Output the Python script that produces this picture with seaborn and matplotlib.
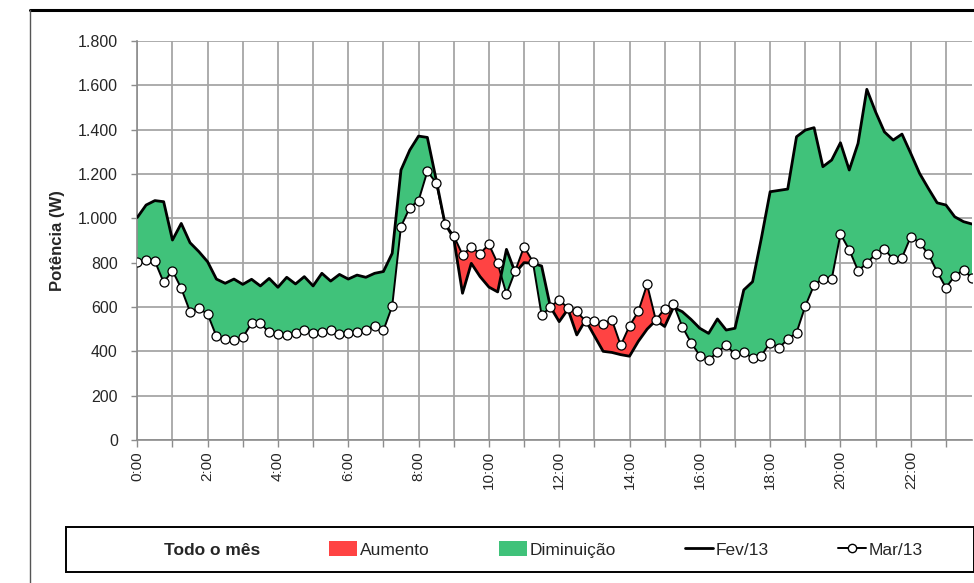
import numpy as np
import pandas as pd
import matplotlib
matplotlib.use("Agg")
import matplotlib.pyplot as plt
import seaborn as sns
from matplotlib.patches import Patch, Rectangle
from matplotlib.lines import Line2D

# ---- data (15-minute intervals, 0:00 .. 23:45) ----
fev = [1004, 1060, 1080, 1075, 902, 977, 890, 850, 804, 726, 707, 726, 702, 725, 695, 729,
       689, 734, 704, 737, 695, 752, 717, 747, 726, 744, 734, 752, 760, 842, 1218, 1308,
       1371, 1365, 1175, 977, 910, 662, 797, 737, 690, 668, 860, 755, 800, 797, 785, 600,
       534, 590, 474, 541, 470, 400, 395, 385, 378, 445, 500, 540, 512, 598, 579, 544,
       504, 481, 546, 496, 504, 677, 714, 910, 1120, 1126, 1132, 1368, 1398, 1409, 1233, 1263,
       1341, 1218, 1338, 1582, 1480, 1390, 1353, 1380, 1293, 1203, 1135, 1070, 1060, 1007, 985, 974]
mar = [804, 812, 807, 711, 764, 684, 579, 594, 568, 468, 454, 451, 463, 526, 526, 486,
       478, 474, 484, 496, 484, 487, 496, 477, 481, 489, 496, 516, 494, 604, 963, 1048,
       1080, 1212, 1160, 975, 922, 836, 870, 841, 883, 797, 658, 763, 872, 805, 563, 600,
       633, 594, 580, 536, 537, 525, 542, 427, 515, 580, 702, 540, 593, 614, 511, 439,
       381, 361, 396, 427, 387, 396, 370, 381, 439, 416, 454, 484, 604, 699, 728, 725,
       929, 858, 764, 797, 840, 861, 815, 822, 917, 890, 838, 759, 687, 740, 767, 729]
times = [f"{h}:{m:02d}" for h in range(24) for m in (0, 15, 30, 45)]
tick_labels = [f"{h}:00" for h in range(0, 24, 2)]
y_ticks = [0, 200, 400, 600, 800, 1000, 1200, 1400, 1600, 1800]
y_tick_labels = ["0", "200", "400", "600", "800", "1.000", "1.200", "1.400", "1.600", "1.800"]

df = pd.DataFrame({"idx": np.arange(len(times)), "time": times, "Fev/13": fev, "Mar/13": mar})

sns.set_style("white")
plt.rcParams["font.family"] = ["Liberation Sans", "DejaVu Sans"]

W, H = 974, 583
fig = plt.figure(figsize=(W / 100, H / 100), dpi=100)
ax = fig.add_axes([137.3 / W, 1 - 440 / H, (972.3 - 137.3) / W, (440 - 41) / H])

GREEN = "#40C27A"
RED = "#FF4343"
x = df["idx"].to_numpy()
f = df["Fev/13"].to_numpy(float)
m = df["Mar/13"].to_numpy(float)
ax.fill_between(x, m, f, where=f >= m, interpolate=True, color=GREEN, lw=0, zorder=2)
ax.fill_between(x, f, m, where=m >= f, interpolate=True, color=RED, lw=0, zorder=2)

sns.lineplot(data=df, x="idx", y="Fev/13", ax=ax, color="black", lw=2.0, zorder=4)
sns.lineplot(data=df, x="idx", y="Mar/13", ax=ax, color="black", lw=1.4, marker="o",
             markersize=6.5, markerfacecolor="white", markeredgecolor="black",
             markeredgewidth=0.9, zorder=5)

ax.set_xlim(0, len(times) - 1)
ax.set_ylim(0, 1800)
ax.set_yticks(y_ticks)
ax.set_yticklabels(y_tick_labels, fontsize=11.5)
ax.set_xticks(np.arange(0, 96, 8))
ax.set_xticklabels(tick_labels, rotation=90, fontsize=11)
ax.set_xticks(np.arange(0, 96, 4), minor=True)
ax.set_xlabel("")
ax.set_ylabel("Potência (W)", fontsize=12, fontweight="bold", labelpad=9)

ax.grid(True, which="both", axis="x", color="#A6A6A6", lw=1.3, zorder=1)
ax.grid(True, which="major", axis="y", color="#A6A6A6", lw=1.3, zorder=1)
ax.set_axisbelow(True)
for s in ["top", "right"]:
    ax.spines[s].set_visible(False)
for s in ["left", "bottom"]:
    ax.spines[s].set_color("#8C8C8C")
    ax.spines[s].set_linewidth(1.2)
ax.tick_params(axis="x", which="both", direction="out", length=5, color="#8C8C8C",
               width=1.0, pad=3, bottom=True)
ax.tick_params(axis="y", which="both", direction="out", length=4, color="#8C8C8C",
               width=1.0, pad=10, left=True)

# legend
fig.add_artist(Rectangle((66 / W, 1 - 572 / H), (974 - 66) / W, (572 - 527) / H,
                         transform=fig.transFigure, facecolor="white", edgecolor="black",
                         lw=1.4, zorder=0))
handles = [Patch(facecolor="none", edgecolor="none"),
           Patch(facecolor=RED, edgecolor="none"),
           Patch(facecolor=GREEN, edgecolor="none"),
           Line2D([], [], color="black", lw=2),
           Line2D([], [], color="black", lw=1.4, marker="o", markersize=6,
                  markerfacecolor="white", markeredgecolor="black")]
labels = ["Todo o mês", "Aumento", "Diminuição", "Fev/13", "Mar/13"]
leg = fig.legend(handles, labels, ncol=5, loc="center",
                 bbox_to_anchor=(528 / W, 1 - 549.5 / H),
                 frameon=False, fontsize=12.5, handlelength=1.6, handleheight=0.9,
                 handletextpad=0.15, columnspacing=4.0, borderaxespad=0)
leg.get_texts()[0].set_fontweight("bold")

# outer frame lines
fig.add_artist(Line2D([30 / W, 1], [1 - 10 / H, 1 - 10 / H], color="black", lw=2.2,
                      transform=fig.transFigure))
fig.add_artist(Line2D([30 / W, 30 / W], [0, 1 - 10 / H], color="#555555", lw=1.0,
                      transform=fig.transFigure))

fig.savefig("out.png", dpi=100)
